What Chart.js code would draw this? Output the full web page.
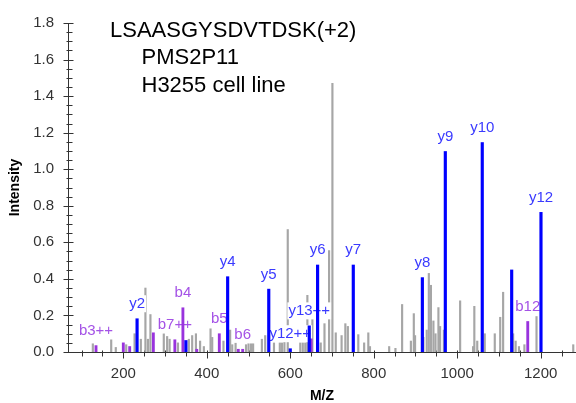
<!DOCTYPE html>
<html><head><meta charset="utf-8">
<script src="https://cdn.jsdelivr.net/npm/chart.js@4.4.1/dist/chart.umd.min.js"></script>
<style>html,body{margin:0;padding:0;background:#fff;overflow:hidden}canvas{display:block}</style>
</head><body>
<canvas id="c" width="576" height="403"></canvas>
<script>
const titleLines = ['LSAASGYSDVTDSK(+2)', 'PMS2P11', 'H3255 cell line'];
const xTickValues = [200, 400, 600, 800, 1000, 1200];
const yTickValues = [0, 0.2, 0.4, 0.6, 0.8, 1.0, 1.2, 1.4, 1.6, 1.8];

const grayMz = [127, 171, 182, 207, 227, 242, 253, 259, 265, 297, 305, 311, 331, 357, 365, 374, 384, 393, 409, 413,
  440, 456, 461, 469, 494, 500, 506, 511, 532, 540, 561, 575, 580, 586, 594, 624, 630, 636, 641, 653,
  673, 682, 693, 701, 709, 723, 732, 738, 763, 777, 787, 791, 837, 852, 868, 889, 896, 899, 919, 927,
  932, 937, 943, 948, 955, 959, 968, 1007, 1038, 1041, 1048, 1066, 1090, 1103, 1110, 1134, 1140, 1148, 1161, 1190, 1278];
const grayInt = [0.045, 0.067, 0.025, 0.04, 0.10, 0.07, 0.35, 0.07, 0.205, 0.10, 0.085, 0.07, 0.05, 0.07, 0.09, 0.10, 0.06, 0.03, 0.127, 0.08,
  0.06, 0.12, 0.04, 0.05, 0.04, 0.045, 0.045, 0.045, 0.07, 0.09, 0.05, 0.05, 0.05, 0.125, 0.67, 0.05, 0.05, 0.05, 0.31, 0.18,
  0.05, 0.155, 0.555, 1.47, 0.105, 0.09, 0.155, 0.14, 0.095, 0.05, 0.105, 0.03, 0.03, 0.02, 0.26, 0.06, 0.21, 0.09, 0.08, 0.12,
  0.43, 0.365, 0.17, 0.10, 0.243, 0.14, 0.12, 0.28, 0.03, 0.25, 0.06, 0.10, 0.10, 0.19, 0.327, 0.10, 0.06, 0.03, 0.04, 0.194, 0.04];

const bIonMz = [134.6, 200, 215.3, 272, 323.5, 342.8, 376, 430, 475.5, 486, 650, 1169];
const bIonInt = [0.035, 0.05, 0.03, 0.105, 0.067, 0.242, 0.015, 0.10, 0.015, 0.015, 0.072, 0.167];
const bIonLabels = ['b3++', '', '', '', 'b7++', 'b4', '', 'b5', '', 'b6', '', 'b12'];

const yIonMz = [233, 350, 450, 548.5, 600, 645.5, 665.5, 751, 916.5, 971.5, 1060, 1130.5, 1200.7];
const yIonInt = [0.182, 0.063, 0.412, 0.344, 0.018, 0.143, 0.476, 0.476, 0.407, 1.097, 1.146, 0.449, 0.764];
const yIonLabels = ['y2', '', 'y4', 'y5', 'y12++', 'y13++', 'y6', 'y7', 'y8', 'y9', 'y10', '', 'y12'];

const FONT = "Arial, 'Liberation Sans', Helvetica, sans-serif";
const pts = (mz, it) => mz.map((m, i) => ({ x: m, y: it[i] }));

const labelPlugin = {
  id: 'peakLabels',
  afterDatasetDraw(chart, args) {
    if (args.index !== 0) return;
    const ctx = chart.ctx;
    ctx.save();
    ctx.font = '15px ' + FONT;
    ctx.textAlign = 'center';
    ctx.textBaseline = 'alphabetic';
    [1, 2].forEach(di => {
      const ds = chart.data.datasets[di];
      const meta = chart.getDatasetMeta(di);
      ds.peakLabels.forEach((t, i) => {
        if (!t) return;
        const el = meta.data[i];
        const bx = el.x, by = el.y - 10.5;
        const w = ctx.measureText(t).width;
        ctx.fillStyle = '#fff';
        ctx.fillRect(bx - w / 2 - 1, by - 13, w + 2, 17);
        ctx.fillStyle = ds.labelColor;
        ctx.fillText(t, bx, by);
      });
    });
    ctx.restore();
  }
};

const tickPlugin = {
  id: 'minorTicks',
  beforeDatasetsDraw(chart) {
    const ctx = chart.ctx, xs = chart.scales.x, ys = chart.scales.y, ca = chart.chartArea;
    ctx.save();
    ctx.strokeStyle = '#333';
    ctx.lineWidth = 1;
    ctx.beginPath();
    const axY = ca.bottom + 0.5;
    for (let v = Math.ceil(xs.min / 50) * 50; v <= xs.max; v += 50) {
      const px = Math.round(xs.getPixelForValue(v)) + 0.5;
      const major = v % 200 === 0;
      ctx.moveTo(px, axY - 2);
      ctx.lineTo(px, axY + (major ? 6 : 4));
    }
    const axX = ca.left + 0.5;
    for (let k = 0; k <= 36; k++) {
      const v = k * 0.05;
      const py = Math.round(ys.getPixelForValue(v)) + 0.5;
      const major = k % 4 === 0;
      ctx.moveTo(axX - (major ? 5 : 2), py);
      ctx.lineTo(axX + (major ? 5 : 4), py);
    }
    ctx.stroke();
    ctx.restore();
  }
};

const titlePlugin = {
  id: 'titleBlock',
  afterDraw(chart) {
    const ctx = chart.ctx;
    ctx.save();
    ctx.font = '22px ' + FONT;
    ctx.fillStyle = '#000';
    ctx.textAlign = 'left';
    ctx.textBaseline = 'alphabetic';
    ctx.fillText(titleLines[0], 110, 37);
    ctx.fillText(titleLines[1], 141.5, 64);
    ctx.fillText(titleLines[2], 141.5, 92);
    ctx.restore();
  }
};

new Chart(document.getElementById('c'), {
  type: 'bar',
  data: {
    datasets: [
      { data: pts(grayMz, grayInt), backgroundColor: '#a6a6a6', barThickness: 1.5, grouped: false, order: 3, peakLabels: [] },
      { data: pts(bIonMz, bIonInt), backgroundColor: '#9933dd', barThickness: 2.2, grouped: false, order: 2, peakLabels: bIonLabels, labelColor: '#a452e6' },
      { data: pts(yIonMz, yIonInt), backgroundColor: '#0000ff', barThickness: 2.5, grouped: false, order: 1, peakLabels: yIonLabels, labelColor: '#3a3aff' }
    ]
  },
  options: {
    responsive: false,
    animation: false,
    devicePixelRatio: 1,
    layout: { padding: { top: 21, right: 0, bottom: 0, left: 0 } },
    plugins: { legend: { display: false }, tooltip: { enabled: false } },
    scales: {
      x: {
        type: 'linear', min: 67.5, max: 1284.6, offset: false,
        grid: { display: false, drawTicks: false },
        border: { display: true, color: '#333', width: 1 },
        ticks: { color: '#333', font: { size: 15, family: FONT }, padding: 13, maxRotation: 0, autoSkip: false, callback: v => String(v) },
        afterBuildTicks: s => { s.ticks = xTickValues.map(v => ({ value: v })); },
        afterFit: s => { s.height = 51; },
        title: { display: true, text: 'M/Z', color: '#000', font: { size: 14, weight: 'bold', family: FONT, lineHeight: 1 }, padding: { top: 0, bottom: 0 } }
      },
      y: {
        type: 'linear', min: 0, max: 1.8,
        grid: { display: false, drawTicks: false },
        border: { display: true, color: '#333', width: 1 },
        ticks: { color: '#333', font: { size: 15, family: FONT }, padding: 14, autoSkip: false, callback: v => Number(v).toFixed(1) },
        afterBuildTicks: s => { s.ticks = yTickValues.map(v => ({ value: v })); },
        afterFit: s => { s.width = 68; },
        title: { display: true, text: 'Intensity', color: '#000', font: { size: 14, weight: 'bold', family: FONT, lineHeight: 1 }, padding: { top: 8, bottom: 0 } }
      }
    }
  },
  plugins: [tickPlugin, labelPlugin, titlePlugin]
});
</script>
</body></html>
